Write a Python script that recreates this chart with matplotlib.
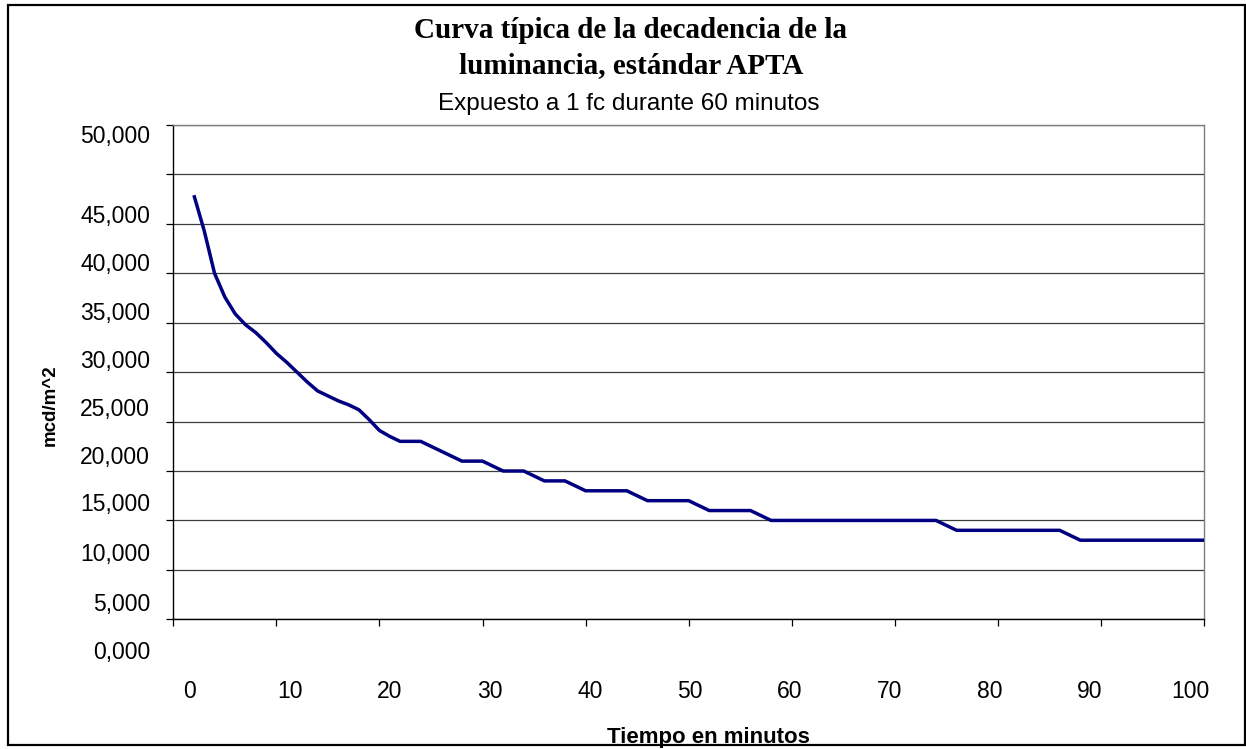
import matplotlib
matplotlib.use('Agg')
import matplotlib.pyplot as plt
from matplotlib.patches import Rectangle

# Data (mcd/m^2 against minutes)
minutes = list(range(2, 23)) + list(range(24, 101, 2))
luminance = [42900, 39300, 35000, 32600, 30900, 29800, 29000, 28000, 26900, 26000,
             25000, 24000, 23100, 22600, 22100, 21700, 21200, 20200, 19100, 18500,
             18000,
             18000, 17000, 16000, 16000, 15000, 15000, 14000, 14000, 13000, 13000,
             13000, 12000, 12000, 12000, 11000, 11000, 11000,
             10000, 10000, 10000, 10000, 10000, 10000, 10000, 10000, 10000,
             9000, 9000, 9000, 9000, 9000, 9000,
             8000, 8000, 8000, 8000, 8000, 8000, 8000]

y_labels = ['50,000', '45,000', '40,000', '35,000', '30,000', '25,000',
            '20,000', '15,000', '10,000', '5,000', '0,000']
x_labels = ['0', '10', '20', '30', '40', '50', '60', '70', '80', '90', '100']

W, H = 1246, 749

# where the labels sit in the original (pixels), they do not line up with the ticks
ylab_px = [137, 216, 265, 314, 361.75, 409.5, 457.25, 505, 554, 604, 653]
xlab_px = [190 + 100 * k for k in range(11)]

fig = plt.figure(figsize=(W / 100, H / 100), dpi=100)
ax = fig.add_axes([173.3 / W, 1 - 619.3 / H, (1204 - 173.3) / W, (619.3 - 125) / H])

ax.plot(minutes, luminance, color='#000080', lw=2.5, solid_joinstyle='round',
        solid_capstyle='butt', zorder=3)

ax.set_xlim(0, 100)
ax.set_ylim(0, 50000)
ax.set_xticks(range(0, 101, 10))
ax.set_yticks(range(0, 50001, 5000))
ax.set_xticklabels([])
ax.set_yticklabels([])
ax.tick_params(direction='out', length=5, width=0.9, color='black')
ax.yaxis.grid(True, color='#3c3c3c', lw=0.9)
ax.set_axisbelow(True)

for s in ['left', 'bottom']:
    ax.spines[s].set_color('black')
    ax.spines[s].set_linewidth(1.0)
for s in ['top', 'right']:
    ax.spines[s].set_color('#7f7f7f')
    ax.spines[s].set_linewidth(1.0)

sans = 'Liberation Sans'
for lab, py in zip(y_labels, ylab_px):
    fig.text(150 / W, 1 - py / H, lab, ha='right', va='center', fontsize=16.5, family=sans)
for lab, px in zip(x_labels, xlab_px):
    fig.text(px / W, 1 - 691 / H, lab, ha='center', va='center', fontsize=16.5, family=sans)

# titles
fig.text(631 / W, 1 - 30 / H, 'Curva típica de la decadencia de la', ha='center', va='center',
         fontsize=21, fontweight='bold', family='Liberation Serif')
fig.text(631 / W, 1 - 66 / H, 'luminancia, estándar APTA', ha='center', va='center',
         fontsize=21, fontweight='bold', family='Liberation Serif')
fig.text(629 / W, 1 - 104 / H, 'Expuesto a 1 fc durante 60 minutos', ha='center', va='center',
         fontsize=17.5, family=sans)

fig.text(50 / W, 1 - 405 / H, 'mcd/m^2', rotation=90, ha='center', va='center',
         fontsize=13.5, fontweight='bold', family=sans)
fig.text(708 / W, 1 - 743 / H, 'Tiempo en minutos', ha='center', va='baseline',
         fontsize=16, fontweight='bold', family=sans)

# outer chart border
fig.add_artist(Rectangle((8 / W, 1 - 745 / H), (1245 - 8) / W, (745 - 5) / H,
                         transform=fig.transFigure, fill=False, ec='black', lw=1.6, zorder=10))

fig.savefig('out.png', dpi=100)
